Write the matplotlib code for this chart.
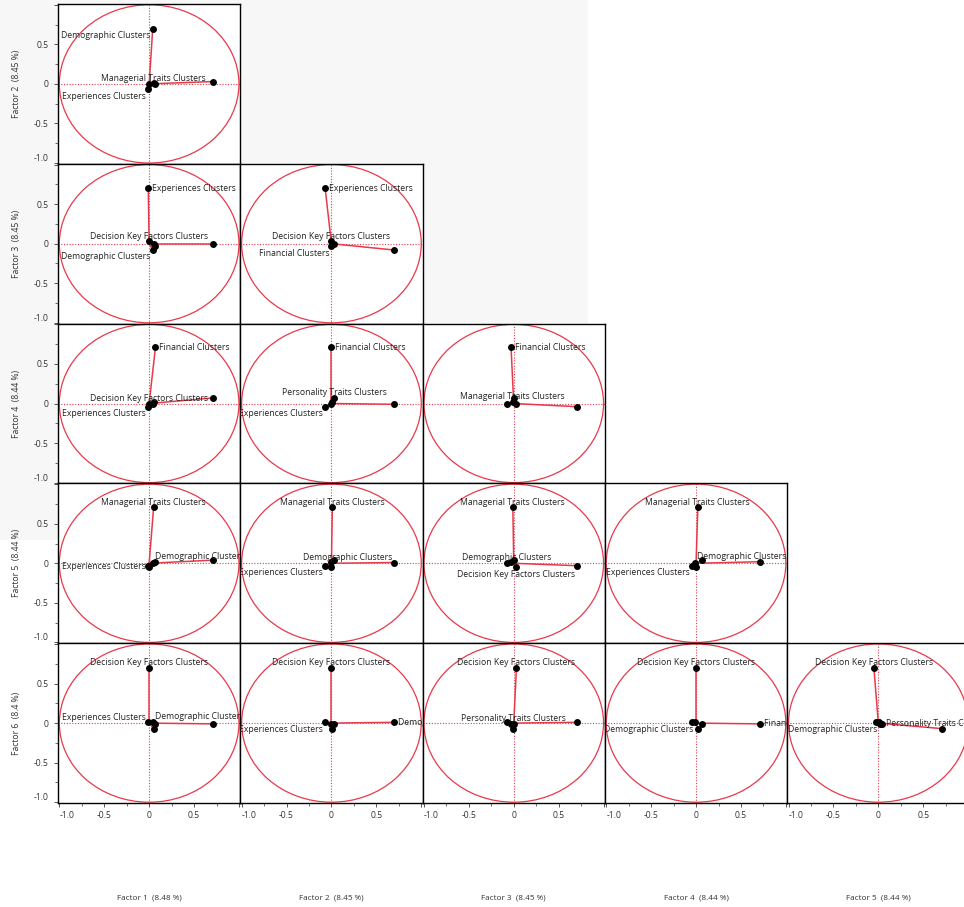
import matplotlib
matplotlib.use("Agg")
import matplotlib.pyplot as plt
from matplotlib.patches import Circle, Rectangle
from matplotlib.ticker import MultipleLocator, FixedLocator
from matplotlib.transforms import offset_copy

plt.rcParams["font.family"] = ["Open Sans", "DejaVu Sans"]
plt.rcParams["axes.unicode_minus"] = False

W, H = 964, 907
RED = "#e8394a"
TEXT = "#333333"
GRAY_BG = "#f7f7f7"

# variable loadings on the six extracted factors
variables = [
    "Demographic Clusters",
    "Managerial Traits Clusters",
    "Experiences Clusters",
    "Decision Key Factors Clusters",
    "Financial Clusters",
    "Personality Traits Clusters",
]
factor_1 = [0.04, 0.05, -0.01, 0.00, 0.07, 0.71]
factor_2 = [0.70, 0.01, -0.07, 0.00, 0.00, 0.03]
factor_3 = [-0.08, -0.01, 0.70, 0.03, -0.03, 0.00]
factor_4 = [-0.01, 0.02, -0.04, 0.00, 0.71, 0.07]
factor_5 = [0.01, 0.71, -0.03, -0.05, 0.02, 0.04]
factor_6 = [0.01, -0.07, 0.01, 0.70, -0.01, -0.01]
explained = ["8.48", "8.45", "8.45", "8.44", "8.44", "8.4"]

loadings = [factor_1, factor_2, factor_3, factor_4, factor_5, factor_6]

# which points get a name in each panel (x factor, y factor) and where it sits
point_labels = {
    (1, 2): [("Demographic Clusters", "LB"), ("Managerial Traits Clusters", "A"),
             ("Experiences Clusters", "LB")],
    (1, 3): [("Experiences Clusters", "R"), ("Decision Key Factors Clusters", "A"),
             ("Demographic Clusters", "LB")],
    (2, 3): [("Experiences Clusters", "R"), ("Decision Key Factors Clusters", "A"),
             ("Financial Clusters", "LB")],
    (1, 4): [("Financial Clusters", "R"), ("Decision Key Factors Clusters", "A"),
             ("Experiences Clusters", "LB")],
    (2, 4): [("Financial Clusters", "R"), ("Personality Traits Clusters", "A"),
             ("Experiences Clusters", "LB")],
    (3, 4): [("Financial Clusters", "R"), ("Managerial Traits Clusters", "A")],
    (1, 5): [("Managerial Traits Clusters", "A"), ("Demographic Clusters", "RA"),
             ("Experiences Clusters", "L")],
    (2, 5): [("Managerial Traits Clusters", "A"), ("Demographic Clusters", "LA"),
             ("Experiences Clusters", "LB")],
    (3, 5): [("Managerial Traits Clusters", "A"), ("Demographic Clusters", "A"),
             ("Decision Key Factors Clusters", "B")],
    (4, 5): [("Managerial Traits Clusters", "A"), ("Demographic Clusters", "RA"),
             ("Experiences Clusters", "LB")],
    (1, 6): [("Decision Key Factors Clusters", "A"), ("Demographic Clusters", "RA"),
             ("Experiences Clusters", "LA")],
    (2, 6): [("Decision Key Factors Clusters", "A"), ("Demographic Clusters", "R"),
             ("Experiences Clusters", "LB")],
    (3, 6): [("Decision Key Factors Clusters", "A"), ("Personality Traits Clusters", "A")],
    (4, 6): [("Decision Key Factors Clusters", "A"), ("Financial Clusters", "R"),
             ("Demographic Clusters", "LB")],
    (5, 6): [("Decision Key Factors Clusters", "A"), ("Personality Traits Clusters", "R"),
             ("Demographic Clusters", "LB")],
}

# offset (points), ha, va for each label position
PLACES = {
    "A": ((0, 3.6), "center", "center"),
    "B": ((0, -5.0), "center", "center"),
    "R": ((2.8, 0), "left", "center"),
    "L": ((-2.0, -0.8), "right", "center"),
    "RA": ((1.6, 4.2), "left", "center"),
    "LA": ((-1.6, 3.6), "right", "center"),
    "LB": ((-1.6, -5.0), "right", "center"),
}

FS = 6.2
PANEL_W, PANEL_H = 182.3, 159.8
LEFT0, TOP0 = 58, 4

fig = plt.figure(figsize=(W / 100, H / 100), dpi=100)
fig.patch.set_facecolor("white")
fig.patches.append(Rectangle((0, 1 - 540 / H), 588 / W, 540 / H,
                             transform=fig.transFigure, facecolor=GRAY_BG,
                             edgecolor="none", zorder=-10))


def draw_panel(ax, xf, yf):
    xs = loadings[xf - 1]
    ys = loadings[yf - 1]
    ax.set_facecolor("white")
    ax.set_xlim(-1.015, 1.015)
    ax.set_ylim(-1.01, 1.01)
    ax.add_patch(Circle((0, 0), 1.0, fill=False, edgecolor=RED, linewidth=0.9))
    ax.axhline(0, color=RED, linestyle=(0, (1, 1.5)), linewidth=0.8)
    ax.axvline(0, color=RED, linestyle=(0, (1, 1.5)), linewidth=0.8)
    for x, y in zip(xs, ys):
        ax.plot([0, x], [0, y], color=RED, linewidth=1.1, zorder=3)
    ax.scatter(xs, ys, s=25, color="black", zorder=4, linewidths=0)

    for name, place in point_labels.get((xf, yf), []):
        i = variables.index(name)
        (dx, dy), ha, va = PLACES[place]
        tr = offset_copy(ax.transData, fig=fig, x=dx, y=dy, units="points")
        ax.text(xs[i], ys[i], name, transform=tr, ha=ha, va=va, fontsize=FS,
                color="#222222", clip_on=True, zorder=5)

    for spine in ax.spines.values():
        spine.set_edgecolor("black")
        spine.set_linewidth(1.0)


for r in range(5):
    yf = r + 2
    top = TOP0 + r * PANEL_H
    for c in range(r + 1):
        xf = c + 1
        left = LEFT0 + c * PANEL_W
        ax = fig.add_axes([left / W, 1 - (top + PANEL_H) / H, PANEL_W / W, PANEL_H / H])
        draw_panel(ax, xf, yf)

        if c == 0:
            ax.yaxis.set_major_locator(FixedLocator([-1.0, -0.5, 0.0, 0.5, 1.0]))
            ax.yaxis.set_minor_locator(MultipleLocator(0.25))
            ax.set_yticklabels(["-1.0", "-0.5", "0", "0.5", ""])
            ax.get_yticklabels()[0].set_va("bottom")
            ax.tick_params(axis="y", which="both", direction="out", colors="#555555",
                           labelcolor=TEXT, labelsize=FS)
            ax.tick_params(axis="y", which="major", length=3, width=0.7)
            ax.tick_params(axis="y", which="minor", length=2, width=0.6)
        else:
            ax.tick_params(axis="y", which="both", left=False, labelleft=False)

        if r == 4:
            ax.xaxis.set_major_locator(FixedLocator([-1.0, -0.5, 0.0, 0.5, 1.0]))
            ax.xaxis.set_minor_locator(MultipleLocator(0.25))
            ax.set_xticklabels(["-1.0", "-0.5", "0", "0.5", ""])
            ax.get_xticklabels()[0].set_ha("left")
            ax.tick_params(axis="x", which="both", direction="out", colors="#555555",
                           labelcolor=TEXT, labelsize=FS)
            ax.tick_params(axis="x", which="major", length=3, width=0.7, pad=3)
            ax.tick_params(axis="x", which="minor", length=2, width=0.6)
        else:
            ax.tick_params(axis="x", which="both", bottom=False, labelbottom=False)

    fig.text(16 / W, 1 - (top + PANEL_H / 2) / H, f"Factor {yf}  ({explained[yf - 1]} %)",
             rotation=90, ha="center", va="center", fontsize=FS, color=TEXT)

for c in range(5):
    cx = LEFT0 + c * PANEL_W + PANEL_W / 2
    fig.text(cx / W, 1 - 898 / H, f"Factor {c + 1}  ({explained[c]} %)",
             ha="center", va="center", fontsize=FS - 0.3, color=TEXT)

fig.savefig("out.png", dpi=100, facecolor=fig.get_facecolor())
plt.close(fig)
